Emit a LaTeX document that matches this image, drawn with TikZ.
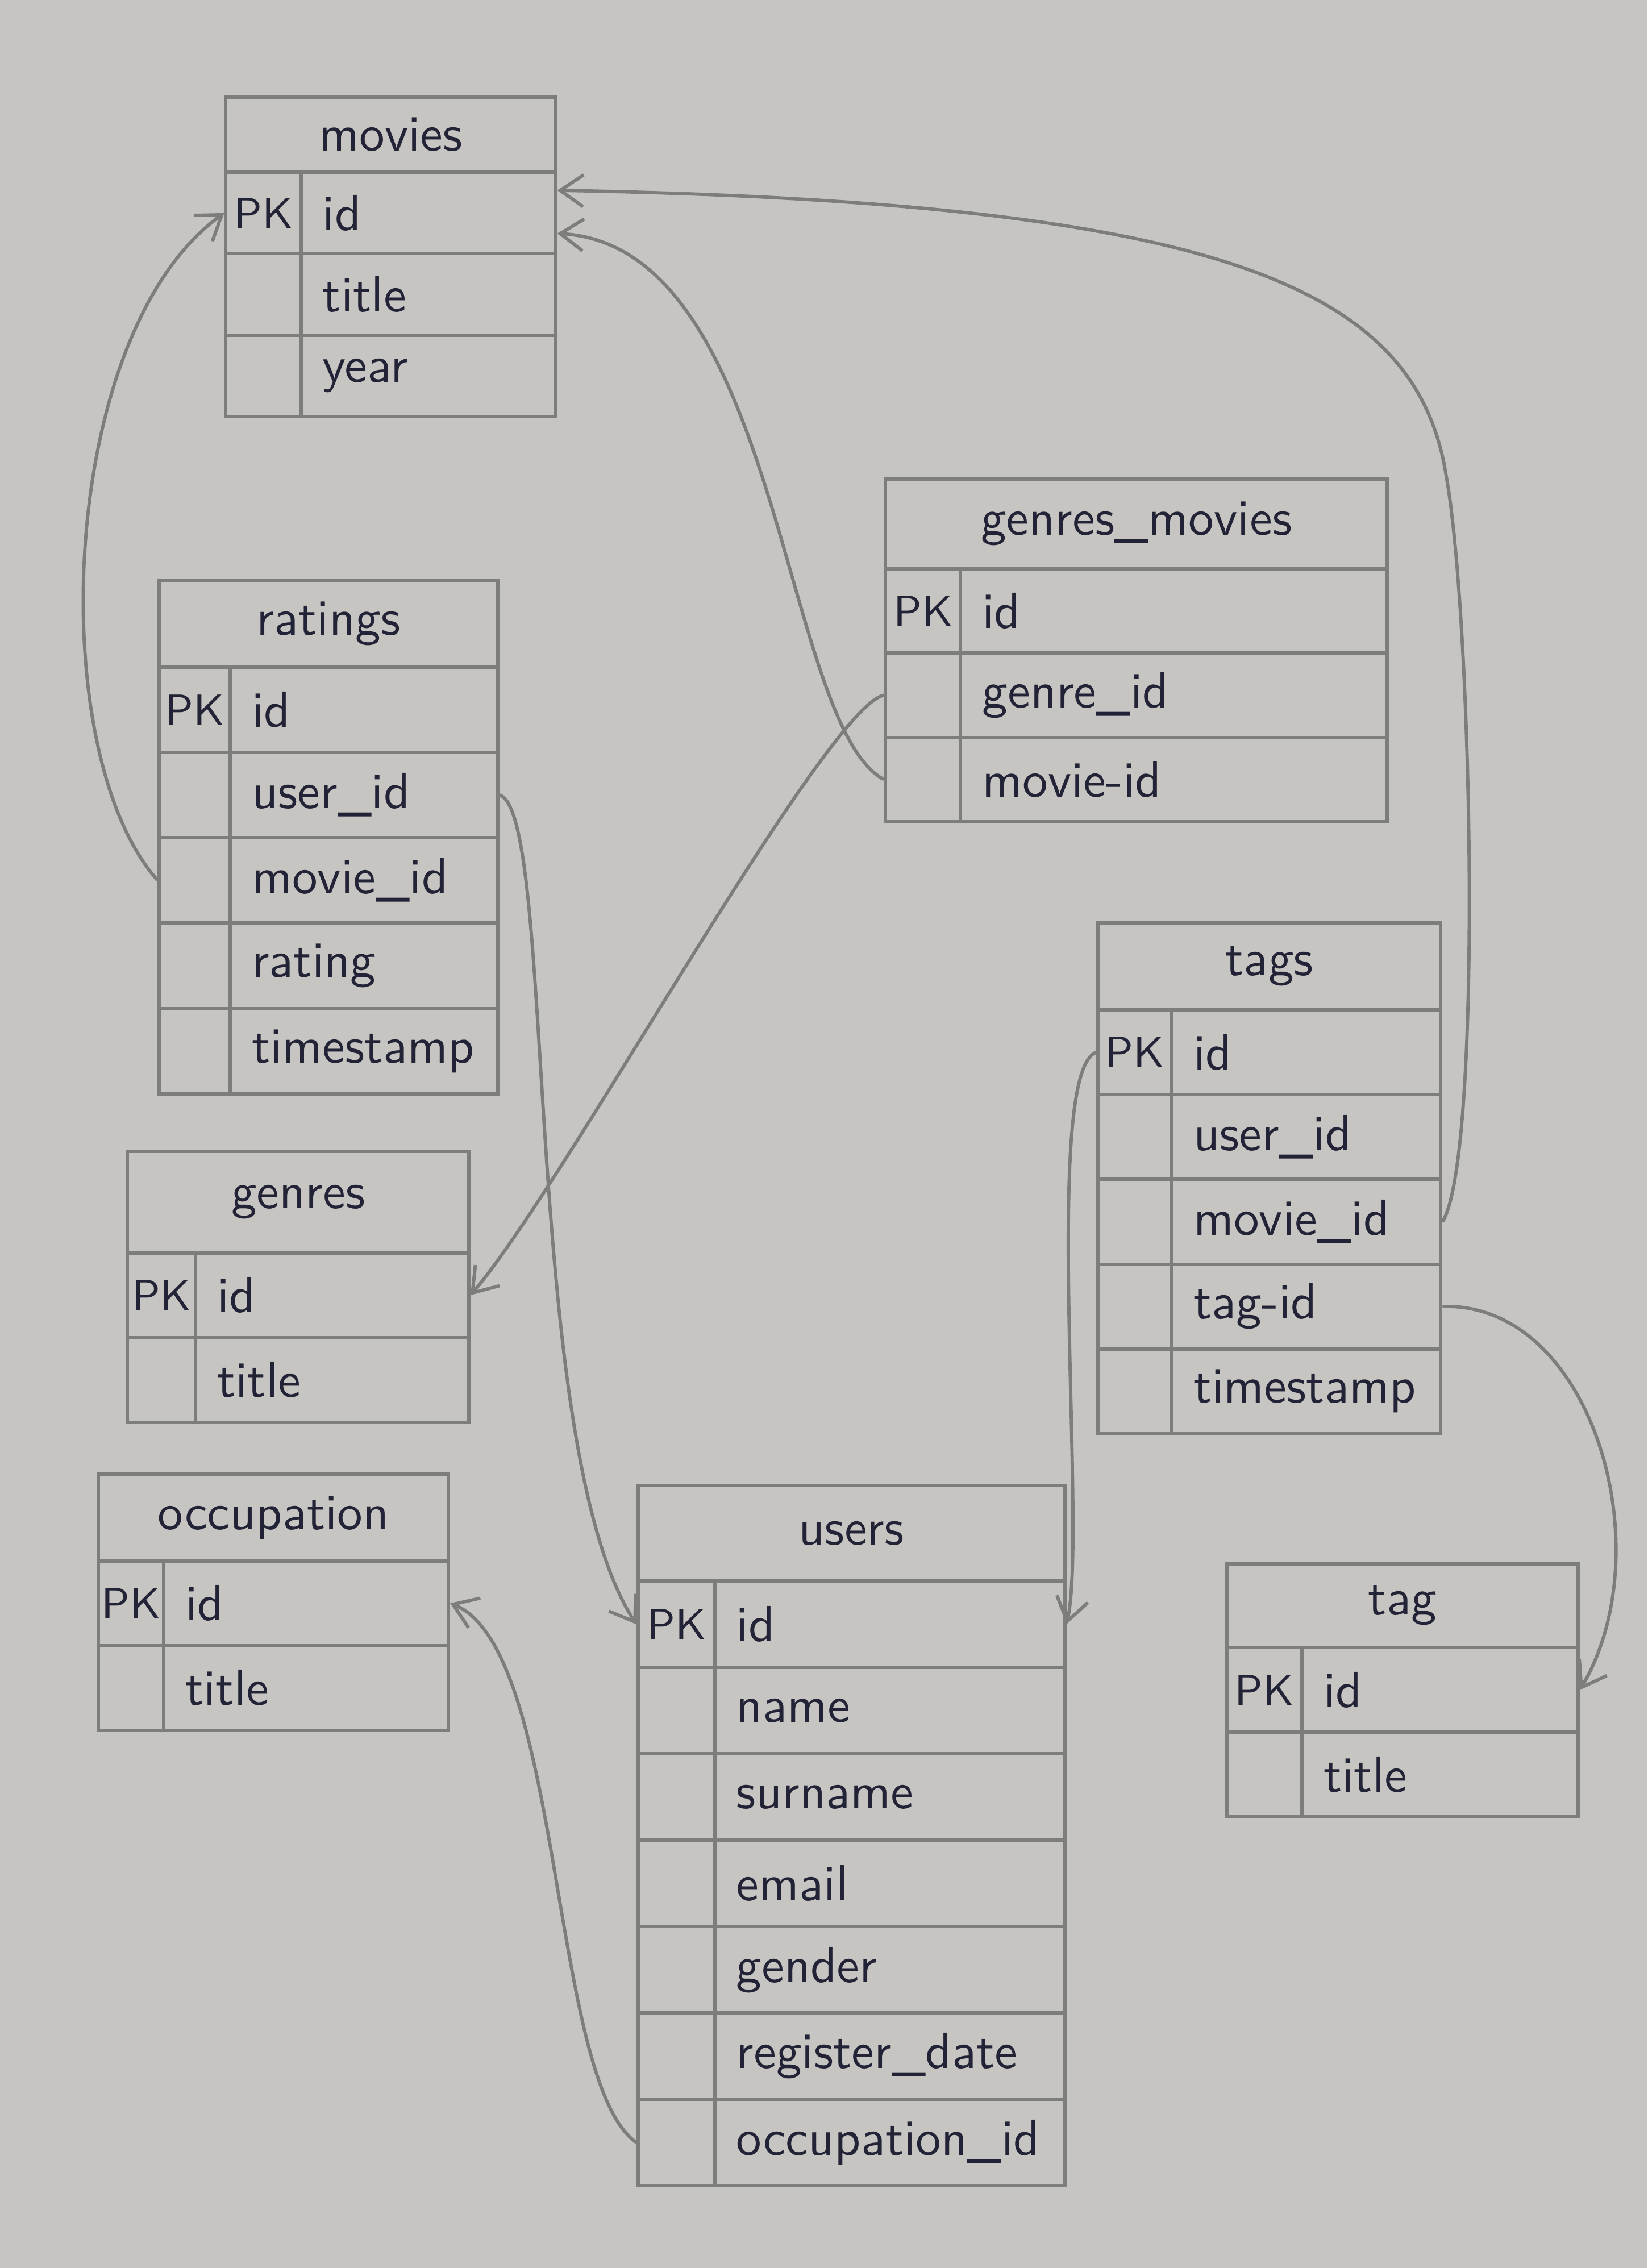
\documentclass[tikz,border=0pt]{standalone}
\usepackage{tikz}
\usetikzlibrary{arrows.meta}

\definecolor{paper}{RGB}{199,197,193}
\definecolor{pencil}{RGB}{125,125,123}
\definecolor{ink}{RGB}{35,35,55}

\tikzset{
  cell/.style={draw=pencil, line width=0.65pt, inner sep=0pt, text=ink,
    font=\sffamily\fontsize{10}{12}\selectfont},
  erhead/.style={cell},
  erkey/.style={cell, font=\sffamily\fontsize{8.5}{10}\selectfont},
  erfield/.style={cell, align=left, inner xsep=1.5mm},
  link/.style={draw=pencil, line width=0.65pt, -{Straight Barb[length=1.6mm,width=2.2mm]}}
}

% name, left, top, width, key width, header height, row height, title, rows
\newcommand{\ertable}[9]{%
  \pgfmathsetmacro\hw{#4/10}
  \pgfmathsetmacro\hh{#6/10}
  \node[erhead, minimum width=\hw mm, minimum height=\hh mm, anchor=north west]
    (#1) at (#2,#3) {#8};
  \foreach \k/\f [count=\i] in {#9} {
    \pgfmathsetmacro\kw{#5/10}
    \pgfmathsetmacro\rh{#7/10}
    \pgfmathsetmacro\fw{(#4-#5)/10}
    \pgfmathsetmacro\tw{(#4-#5)/10-3}
    \pgfmathsetmacro\ry{#3+#6+(\i-1)*#7}
    \node[erkey, minimum width=\kw mm, minimum height=\rh mm, anchor=north west]
      (#1-k\i) at (#2,\ry) {\k};
    \node[erfield, minimum width=\fw mm, text width=\tw mm, minimum height=\rh mm,
      anchor=north west] (#1-\i) at ({#2+#5},\ry) {\f};
  }
}

\begin{document}
\begin{tikzpicture}[x=0.1mm, y=-0.1mm]
	% -- Paper
	\useasboundingbox (0,0) rectangle (1139,1568);
	\fill[paper] (0,0) rectangle (1139,1568);

	% -- Tables
	\ertable{movies}{155}{66}{228}{52}{52}{56.3}{movies}{PK/id, /title, /year}
	\ertable{ratings}{109}{400}{234}{49}{60}{59}{ratings}{PK/id, /user\_id, /movie\_id, /rating, /timestamp}
	\ertable{gm}{611}{330}{347}{52}{62}{58.3}{genres\_movies}{PK/id, /genre\_id, /movie-id}
	\ertable{tags}{758}{637}{237}{51}{60}{58.6}{tags}{PK/id, /user\_id, /movie\_id, /tag-id, /timestamp}
	\ertable{genres}{87}{795}{236}{47}{70}{58.5}{genres}{PK/id, /title}
	\ertable{occupation}{67}{1018}{242}{45}{60}{58.5}{occupation}{PK/id, /title}
	\ertable{users}{440}{1026}{295}{53}{66}{59.7}{users}{PK/id, /name, /surname, /email, /gender, /register\_date, /occupation\_id}
	\ertable{tag}{847}{1080}{243}{52}{58}{58.5}{tag}{PK/id, /title}

	% -- Links to movies
	\draw[link] (ratings-k3.west) .. controls (30,520) and (40,230) .. (movies-k1.west);
	\draw[link] (gm-k3.west) .. controls (540,500) and (540,170) .. (movies-1.-9);
	\draw[link] (tags-3.east) .. controls (1025,800) and (1018,430) .. (1000,330)
		.. controls (980,200) and (850,140) .. (movies-1.10);

	% -- Links to genres, users, tag, occupation
	\draw[link] (gm-k2.west) .. controls (570,490) and (390,820) .. (genres-1.east);
	\draw[link] (ratings-2.east) .. controls (385,560) and (360,1000) .. (users-k1.west);
	\draw[link] (tags-k1.west) .. controls (720,740) and (752,1060) .. (users-1.east);
	\draw[link] (tags-4.east) .. controls (1100,900) and (1150,1070) .. (tag-1.east);
	\draw[link] (users-k7.west) .. controls (380,1440) and (390,1140) .. (occupation-1.east);
\end{tikzpicture}
\end{document}
